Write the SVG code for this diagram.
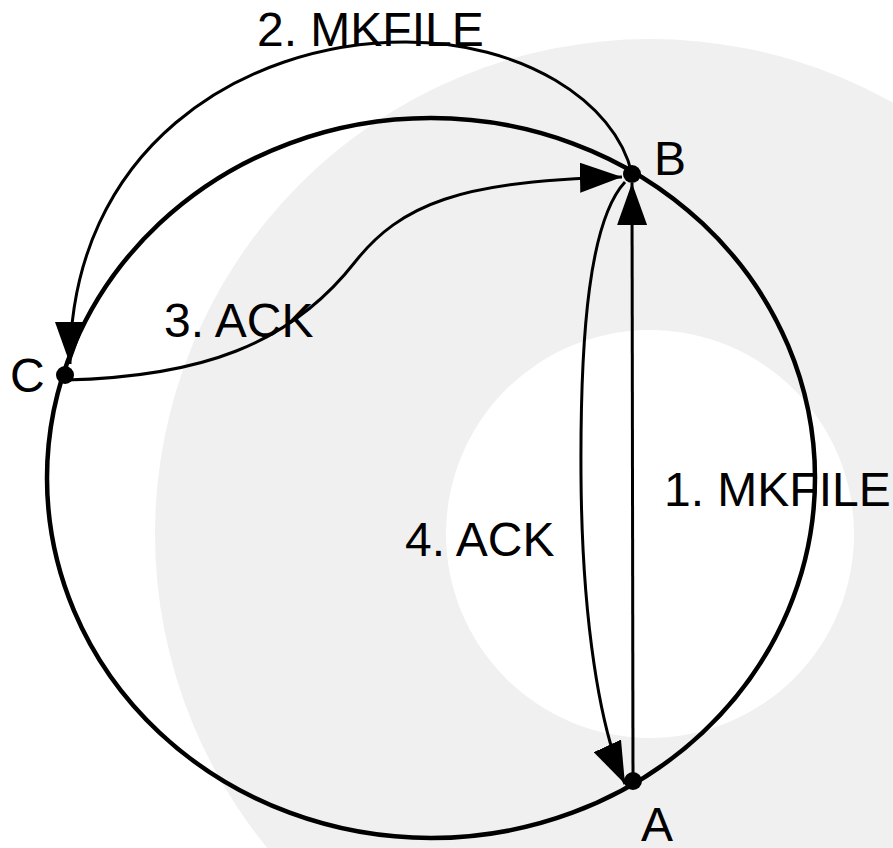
<svg xmlns="http://www.w3.org/2000/svg" width="893" height="848" viewBox="0 0 893 848">
  <style>
    .lbl { font-family: "Liberation Sans", Arial, sans-serif; font-size: 48px; fill: #000; }
    .ring { fill: none; stroke: #000; stroke-width: 4.5; }
    .edge { fill: none; stroke: #000; stroke-width: 3; }
    .dot { fill: #000; }
  </style>
  <defs>
    <marker id="arr" markerUnits="userSpaceOnUse" markerWidth="42" markerHeight="30" refX="42" refY="15" orient="auto">
      <path d="M0,0 L42,15 L0,30 Z" fill="#000"/>
    </marker>
  </defs>
  <rect width="893" height="848" fill="#fff"/>
  <g id="background">
    <circle cx="650" cy="534" r="495" fill="#f0f0f0"/>
    <circle cx="650" cy="534" r="204" fill="#fff"/>
  </g>
  <ellipse id="ring" class="ring" cx="431" cy="478" rx="384" ry="360"/>
  <g id="connectors">
    <g id="e1">
      <path class="edge" d="M633,781 L632,183" marker-end="url(#arr)"/>
      <text class="lbl" x="664" y="506">1. MKFILE</text>
    </g>
    <g id="e2">
      <path class="edge" d="M632,174 C615,100 520,42 406,42 C240,42 70,150 70,364" marker-end="url(#arr)"/>
      <text class="lbl" x="257" y="46">2. MKFILE</text>
    </g>
    <g id="e3">
      <path class="edge" d="M65,380 C200,377 290,345 355,262 C400,205 460,180 622,177" marker-end="url(#arr)"/>
      <text class="lbl" x="164" y="337">3. ACK</text>
    </g>
    <g id="e4">
      <path class="edge" d="M625,182 C590,220 580,330 581,476 C582,620 600,730 625,784" marker-end="url(#arr)"/>
      <text class="lbl" x="405" y="556">4. ACK</text>
    </g>
  </g>
  <g id="node-A">
    <circle class="dot" cx="633" cy="781" r="9"/>
    <text class="lbl" x="641" y="841">A</text>
  </g>
  <g id="node-B">
    <circle class="dot" cx="632" cy="174" r="9"/>
    <text class="lbl" x="654" y="175">B</text>
  </g>
  <g id="node-C">
    <circle class="dot" cx="65" cy="375" r="9"/>
    <text class="lbl" x="10" y="392">C</text>
  </g>
</svg>
